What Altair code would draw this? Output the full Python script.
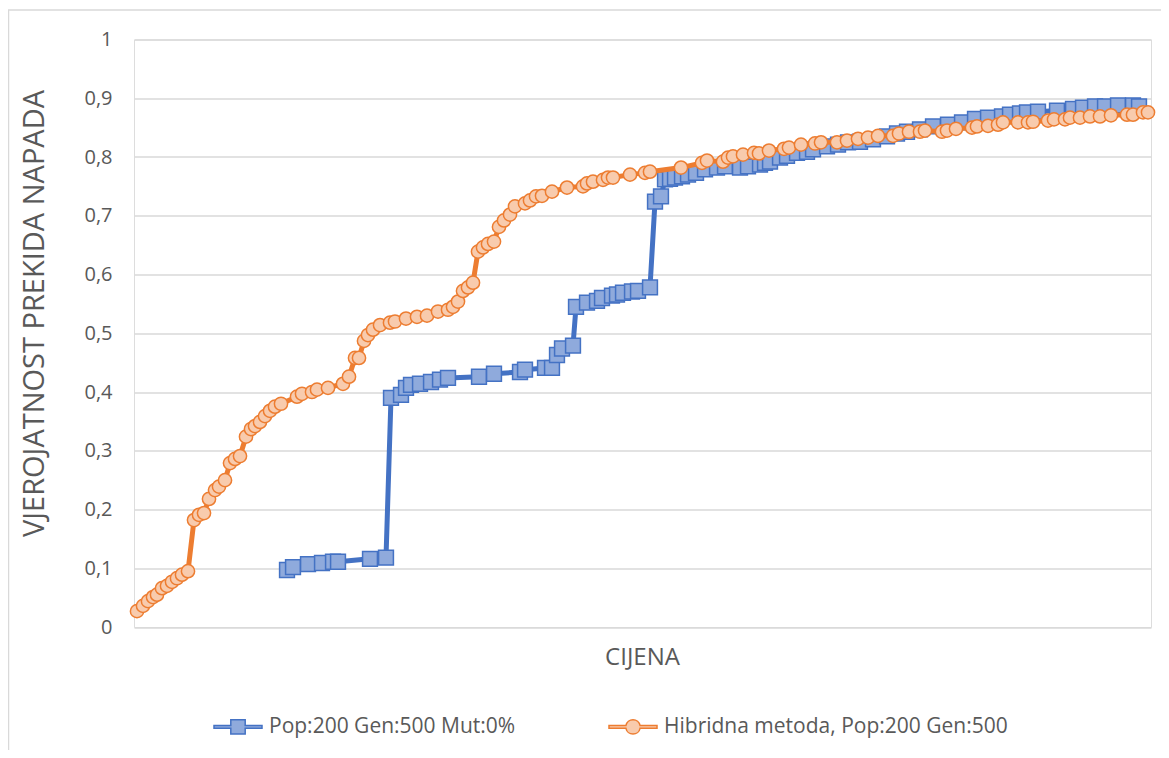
import altair as alt
import pandas as pd

series_names = ["Pop:200 Gen:500 Mut:0%", "Hibridna metoda, Pop:200 Gen:500"]
line_colors = ["#4472C4", "#ED7D31"]
fill_colors = ["#8FAADC", "#F8CBAD"]

blue_cost = [287, 293, 308, 322, 333, 338, 370, 386, 391, 401,
             406, 411, 420, 431, 440, 448, 479, 494, 520, 525,
             545, 552, 557, 562, 573, 576, 587, 597, 602, 612,
             617, 623, 632, 638, 650, 655, 661, 665, 670, 675,
             682, 688, 696, 705, 717, 725, 740, 748, 760, 765,
             770, 780, 787, 797, 807, 813, 827, 838, 848, 860,
             873, 887, 897, 907, 920, 933, 948, 962, 975, 988,
             1002, 1010, 1020, 1027, 1038, 1057, 1073, 1083, 1095, 1105,
             1118, 1133, 1139]
blue_prob = [0.097, 0.102, 0.107, 0.109, 0.111, 0.111, 0.116, 0.118, 0.390, 0.395,
             0.407, 0.412, 0.414, 0.417, 0.421, 0.424, 0.426, 0.431, 0.434, 0.438,
             0.441, 0.441, 0.463, 0.474, 0.479, 0.545, 0.552, 0.555, 0.560, 0.564,
             0.566, 0.569, 0.571, 0.572, 0.578, 0.724, 0.733, 0.762, 0.763, 0.765,
             0.767, 0.770, 0.773, 0.779, 0.782, 0.784, 0.782, 0.784, 0.787, 0.790,
             0.792, 0.799, 0.802, 0.807, 0.809, 0.813, 0.818, 0.821, 0.825, 0.826,
             0.830, 0.835, 0.840, 0.843, 0.847, 0.852, 0.855, 0.859, 0.865, 0.867,
             0.869, 0.872, 0.874, 0.876, 0.877, 0.879, 0.882, 0.884, 0.886, 0.886,
             0.888, 0.888, 0.886]

orange_cost = [137, 143, 148, 153, 157, 162, 167, 172, 177, 182,
               188, 194, 199, 204, 209, 215, 219, 225, 230, 235,
               240, 246, 251, 255, 260, 265, 270, 275, 281, 297,
               302, 312, 317, 328, 343, 349, 355, 359, 364, 368,
               373, 380, 390, 395, 406, 417, 427, 438, 448, 453,
               458, 463, 468, 473, 478, 483, 488, 494, 499, 504,
               510, 515, 525, 530, 536, 542, 552, 567, 583, 587,
               593, 603, 608, 613, 630, 645, 650, 681, 702, 707,
               723, 728, 733, 743, 754, 759, 769, 784, 789, 801,
               815, 821, 837, 847, 858, 868, 878, 893, 899, 909,
               920, 925, 942, 947, 956, 972, 977, 988, 998, 1003,
               1018, 1028, 1033, 1048, 1054, 1065, 1070, 1080, 1090, 1100,
               1111, 1127, 1133, 1143, 1148]
orange_prob = [0.027, 0.036, 0.044, 0.051, 0.055, 0.066, 0.070, 0.077, 0.083, 0.089,
               0.095, 0.182, 0.191, 0.194, 0.218, 0.233, 0.239, 0.250, 0.279, 0.286,
               0.291, 0.324, 0.337, 0.342, 0.349, 0.359, 0.368, 0.375, 0.380, 0.392,
               0.397, 0.400, 0.404, 0.407, 0.414, 0.426, 0.458, 0.458, 0.487, 0.497,
               0.506, 0.514, 0.518, 0.520, 0.525, 0.528, 0.530, 0.537, 0.540, 0.545,
               0.554, 0.572, 0.578, 0.586, 0.639, 0.646, 0.652, 0.656, 0.681, 0.692,
               0.702, 0.716, 0.721, 0.726, 0.733, 0.734, 0.741, 0.748, 0.750, 0.755,
               0.758, 0.761, 0.765, 0.765, 0.770, 0.773, 0.775, 0.782, 0.790, 0.794,
               0.792, 0.799, 0.801, 0.804, 0.807, 0.806, 0.811, 0.814, 0.816, 0.821,
               0.823, 0.825, 0.825, 0.828, 0.831, 0.833, 0.836, 0.836, 0.840, 0.843,
               0.843, 0.845, 0.843, 0.845, 0.848, 0.850, 0.852, 0.853, 0.855, 0.859,
               0.859, 0.859, 0.860, 0.862, 0.864, 0.864, 0.867, 0.867, 0.869, 0.869,
               0.871, 0.872, 0.872, 0.876, 0.876]

y_ticks = [0, 0.1, 0.2, 0.3, 0.4, 0.5, 0.6, 0.7, 0.8, 0.9, 1.0]

FONT = "Open Sans"
TXT = "#595959"
GRID = "#D9D9D9"

df_b = pd.DataFrame({"cost": blue_cost, "prob": blue_prob, "idx": range(len(blue_cost))})
df_o = pd.DataFrame({"cost": orange_cost, "prob": orange_prob, "idx": range(len(orange_cost))})
df_leg = pd.DataFrame({"series": series_names})

x_enc = alt.X("cost:Q",
              scale=alt.Scale(domain=[134, 1151], nice=False, zero=False),
              axis=alt.Axis(labels=False, ticks=False, grid=False, domain=False,
                            title="CIJENA", titleFont=FONT, titleFontSize=24,
                            titleFontWeight="normal", titleColor=TXT,
                            titleX=508, titleY=30, titleAlign="center",
                            titleBaseline="middle"))
y_enc = alt.Y("prob:Q",
              scale=alt.Scale(domain=[0, 1], nice=False),
              axis=alt.Axis(values=y_ticks,
                            labelExpr="replace(format(datum.value, '.1~f'), '.', ',')",
                            labelFont=FONT, labelFontSize=20, labelColor=TXT,
                            labelPadding=22, ticks=False, domain=False,
                            grid=True, gridColor=GRID, gridWidth=1.3,
                            title="VJEROJATNOST PREKIDA NAPADA", titleFont=FONT,
                            titleFontSize=29, titleFontWeight="normal", titleColor=TXT,
                            titleX=-100, titleY=273.5, titleAngle=270,
                            titleAlign="center", titleBaseline="middle"))

blue_line = alt.Chart(df_b).mark_line(color=line_colors[0], strokeWidth=5).encode(
    x=x_enc, y=y_enc, order="idx:Q")
blue_pts = alt.Chart(df_b).mark_point(shape="square", filled=True, size=220,
                                      fill=fill_colors[0], stroke=line_colors[0],
                                      strokeWidth=1.5, opacity=1).encode(
    x="cost:Q", y="prob:Q")
orange_line = alt.Chart(df_o).mark_line(color=line_colors[1], strokeWidth=5).encode(
    x="cost:Q", y="prob:Q", order="idx:Q")
orange_pts = alt.Chart(df_o).mark_point(shape="circle", filled=True, size=175,
                                        fill=fill_colors[1], stroke=line_colors[1],
                                        strokeWidth=1.5, opacity=1).encode(
    x="cost:Q", y="prob:Q")

sq_path = ("M-1,-0.06 L-0.3,-0.06 L-0.3,-0.3 L0.3,-0.3 L0.3,-0.06 L1,-0.06 "
           "L1,0.06 L0.3,0.06 L0.3,0.3 L-0.3,0.3 L-0.3,0.06 L-1,0.06 Z")
ci_path = ("M-1,-0.06 L-0.294,-0.06 A0.3,0.3 0 0 1 0.294,-0.06 L1,-0.06 "
           "L1,0.06 L0.294,0.06 A0.3,0.3 0 0 1 -0.294,0.06 L-1,0.06 Z")

leg = alt.Legend(title=None, orient="none", direction="horizontal",
                 legendX=79, legendY=662, labelFont=FONT, labelFontSize=21,
                 labelColor=TXT, labelOffset=6, columnPadding=90, labelLimit=0,
                 symbolSize=2304, symbolStrokeWidth=1.5, symbolOpacity=1)

legend_layer = alt.Chart(df_leg).mark_point(filled=True, opacity=1, strokeWidth=1.5).encode(
    shape=alt.Shape("series:N", scale=alt.Scale(domain=series_names, range=[sq_path, ci_path]), legend=leg),
    fill=alt.Fill("series:N", scale=alt.Scale(domain=series_names, range=fill_colors), legend=leg),
    stroke=alt.Stroke("series:N", scale=alt.Scale(domain=series_names, range=line_colors), legend=leg),
).transform_filter("false")

border_df = pd.DataFrame({"k": [0]})
border_left = alt.Chart(border_df).mark_rule(color=GRID, strokeWidth=1.5).encode(
    x=alt.value(-125.5), y=alt.value(-29.5), y2=alt.value(720))
border_top = alt.Chart(border_df).mark_rule(color=GRID, strokeWidth=1.5).encode(
    x=alt.value(-126), x2=alt.value(1030), y=alt.value(-29.5))

chart = alt.layer(
    border_left, border_top, blue_line, blue_pts, orange_line, orange_pts, legend_layer
).properties(
    width=1017, height=587.5,
    padding={"left": 126, "top": 31.5, "right": 10, "bottom": 123},
    autosize=alt.AutoSizeParams(type="none"),
).configure_view(stroke=None).configure(background="white")

chart.save("out.html", embed_options={"renderer": "svg", "actions": False})
